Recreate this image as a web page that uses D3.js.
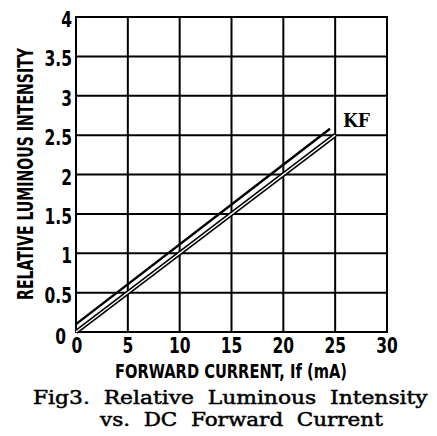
<!DOCTYPE html>
<html>
<head>
<meta charset="utf-8">
<script src="https://cdn.jsdelivr.net/npm/d3@7"></script>
<style>
  body { margin: 0; background: #fff; }
  .cad { font-family: "Liberation Sans Narrow", "DejaVu Sans Condensed", "DejaVu Sans", sans-serif; font-weight: bold; }
  .ser { font-family: "DejaVu Serif", "Liberation Serif", serif; }
</style>
</head>
<body>
<div id="chart"></div>
<script>
// axis ticks
const xTicks = [0, 5, 10, 15, 20, 25, 30]
const yTicks = [0, 0.5, 1, 1.5, 2, 2.5, 3, 3.5, 4]

// KF curves (two straight lines)
const upperCurrent = [0, 24.5]
const upperIntensity = [0.1, 2.58]
const lowerCurrent = [0, 25]
const lowerIntensity = [0, 2.5]

const seriesLabel = 'KF'
const xTitle = 'FORWARD CURRENT, If (mA)'
const yTitle = 'RELATIVE LUMINOUS INTENSITY'
const caption = ['Fig3. Relative Luminous Intensity', 'vs. DC Forward Current']

const width = 437
const height = 436
const margin = { left: 76, top: 17, right: 50, bottom: 104 }

const svg = d3.select('#chart')
  .append('svg')
  .attr('width', width)
  .attr('height', height)

const x = d3.scaleLinear().domain([0, 30]).range([margin.left, width - margin.right])
const y = d3.scaleLinear().domain([0, 4]).range([height - margin.bottom, margin.top])

// squeeze a text horizontally so it is `w` px long
const fit = (sel, tx, ty, rot, w) => {
  const k = w / sel.node().getComputedTextLength()
  sel.attr('transform', 'translate(' + tx + ',' + ty + ') rotate(' + rot + ') scale(' + k + ',1)')
}

// grid
svg.append('g')
  .selectAll('line')
  .data(xTicks)
  .enter()
  .append('line')
  .attr('x1', d => x(d)).attr('x2', d => x(d))
  .attr('y1', y(0)).attr('y2', y(4))
  .attr('stroke', '#000').attr('stroke-width', 2)

svg.append('g')
  .selectAll('line')
  .data(yTicks)
  .enter()
  .append('line')
  .attr('y1', d => y(d)).attr('y2', d => y(d))
  .attr('x1', x(0)).attr('x2', x(30))
  .attr('stroke', '#000').attr('stroke-width', 2)

svg.append('rect')
  .attr('x', x(0)).attr('y', y(4))
  .attr('width', x(30) - x(0)).attr('height', y(0) - y(4))
  .attr('fill', 'none').attr('stroke', '#000').attr('stroke-width', 2)

// tick labels (narrow CAD-like lettering)
svg.append('g')
  .selectAll('text')
  .data(yTicks)
  .enter()
  .append('text')
  .attr('class', 'cad')
  .attr('transform', d => 'translate(' + (d === 0 ? 66 : 72) + ',' + (y(d) + (d === 0 ? 12 : 10)) + ') scale(0.82,1)')
  .attr('text-anchor', 'end')
  .attr('font-size', 21)
  .text(d => d3.format('')(d))

svg.append('g')
  .selectAll('text')
  .data(xTicks)
  .enter()
  .append('text')
  .attr('class', 'cad')
  .attr('transform', d => 'translate(' + (x(d) + (d === 0 ? 1 : 0)) + ',' + (y(0) + 21) + ') scale(0.82,1)')
  .attr('text-anchor', 'middle')
  .attr('font-size', 21)
  .text(d => d)

// axis titles
const xt = svg.append('text')
  .attr('class', 'cad')
  .attr('text-anchor', 'middle')
  .attr('font-size', 20)
  .text(xTitle)
fit(xt, 231, 378, 0, 232)

const yt = svg.append('text')
  .attr('class', 'cad')
  .attr('text-anchor', 'middle')
  .attr('font-size', 21)
  .text(yTitle)
fit(yt, 33, 174, -90, 252)

// lines
const line = d3.line().x(d => x(d[0])).y(d => y(d[1]))
const upper = d3.zip(upperCurrent, upperIntensity)
const lower = d3.zip(lowerCurrent, lowerIntensity)

svg.append('path')
  .attr('d', line(upper))
  .attr('fill', 'none').attr('stroke', '#000').attr('stroke-width', 2.5)

svg.append('path')
  .attr('d', line(lower))
  .attr('fill', 'none').attr('stroke', '#000').attr('stroke-width', 4.5)
svg.append('path')
  .attr('d', line(lower))
  .attr('fill', 'none').attr('stroke', '#fff').attr('stroke-width', 1.3)

const kf = svg.append('text')
  .attr('class', 'ser')
  .attr('font-size', 18)
  .attr('font-weight', 'bold')
  .text(seriesLabel)
fit(kf, 343, 127, 0, 27)

// caption
const c1 = svg.append('text')
  .attr('class', 'ser')
  .attr('font-size', 19)
  .attr('stroke', '#000').attr('stroke-width', 0.5)
  .attr('word-spacing', 6)
  .text(caption[0])
fit(c1, 33, 404, 0, 395)

const c2 = svg.append('text')
  .attr('class', 'ser')
  .attr('font-size', 19)
  .attr('stroke', '#000').attr('stroke-width', 0.5)
  .attr('word-spacing', 6)
  .text(caption[1])
fit(c2, 100, 426, 0, 283)
</script>
</body>
</html>
